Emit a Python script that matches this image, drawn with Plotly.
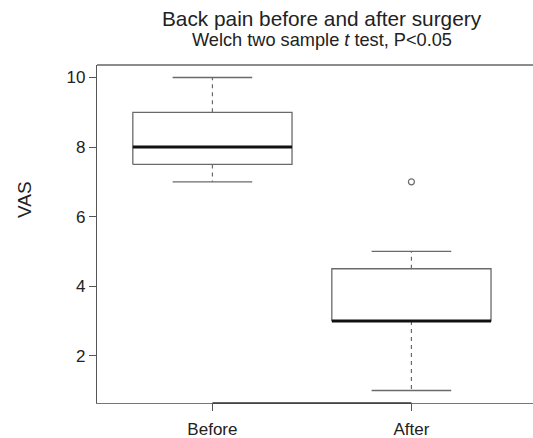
import plotly.graph_objects as go

# Data (five-number summaries)
categories = ["Before", "After"]
lower_whisker = [7, 1]
q1_values = [7.5, 3]
median_values = [8, 3]
q3_values = [9, 4.5]
upper_whisker = [10, 5]
outliers = [[], [7]]
y_ticks = [2, 4, 6, 8, 10]

FONT = "Liberation Sans, Arial, Helvetica, sans-serif"
BOX_COLOR = "#6a6a6a"
HALF_BOX = 0.4
HALF_CAP = 0.2

fig = go.Figure()
positions = list(range(1, len(categories) + 1))
for i, pos in enumerate(positions):
    # box rectangle
    fig.add_trace(go.Scatter(
        x=[pos - HALF_BOX, pos + HALF_BOX, pos + HALF_BOX, pos - HALF_BOX, pos - HALF_BOX],
        y=[q1_values[i], q1_values[i], q3_values[i], q3_values[i], q1_values[i]],
        mode="lines", line=dict(color=BOX_COLOR, width=1.3), hoverinfo="skip"))
    # whiskers (dashed)
    fig.add_trace(go.Scatter(
        x=[pos, pos, None, pos, pos],
        y=[q3_values[i], upper_whisker[i], None, q1_values[i], lower_whisker[i]],
        mode="lines", line=dict(color=BOX_COLOR, width=1.2, dash="4px,4px"), hoverinfo="skip"))
    # caps
    fig.add_trace(go.Scatter(
        x=[pos - HALF_CAP, pos + HALF_CAP, None, pos - HALF_CAP, pos + HALF_CAP],
        y=[upper_whisker[i], upper_whisker[i], None, lower_whisker[i], lower_whisker[i]],
        mode="lines", line=dict(color=BOX_COLOR, width=1.3), hoverinfo="skip"))
    # median
    fig.add_trace(go.Scatter(
        x=[pos - HALF_BOX, pos + HALF_BOX],
        y=[median_values[i], median_values[i]],
        mode="lines", line=dict(color="#111111", width=3), hoverinfo="skip"))
    # outliers
    if outliers[i]:
        fig.add_trace(go.Scatter(
            x=[pos] * len(outliers[i]), y=outliers[i], mode="markers",
            marker=dict(symbol="circle-open", size=6, color=BOX_COLOR, line=dict(width=1.2)),
            hoverinfo="skip"))

W, H = 533, 438
ML, MR, MT, MB = 97, 0, 65, 35
plot_w = W - ML - MR
plot_h = H - MT - MB

fig.update_layout(
    width=W, height=H,
    margin=dict(l=ML, r=MR, t=MT, b=MB),
    paper_bgcolor="white", plot_bgcolor="white",
    showlegend=False,
    font=dict(family=FONT, color="#222222", size=17),
    xaxis=dict(
        range=[0.42, 0.42 + plot_w / 199.0],
        tickvals=positions, ticktext=categories,
        showgrid=False, zeroline=False,
        showline=True, linecolor="#777777", linewidth=1.3,
        ticks="outside", ticklen=7, tickcolor="#555555", tickwidth=1.2,
        ticklabelstandoff=3,
        tickfont=dict(size=17, color="#222222"),
    ),
    yaxis=dict(
        range=[0.64, 10.36],
        tickvals=y_ticks, ticktext=[str(v) for v in y_ticks],
        showgrid=False, zeroline=False,
        showline=True, linecolor="#555555", linewidth=1.3,
        ticks="outside", ticklen=7, tickcolor="#555555", tickwidth=1.2,
        tickfont=dict(size=17, color="#222222"),
    ),
    shapes=[
        dict(type="line", xref="paper", yref="paper", x0=0, x1=1, y0=1, y1=1,
             line=dict(color="#666666", width=1.3)),
        # R-style axis line between first and last tick
        dict(type="line", xref="x", yref="paper", x0=positions[0], x1=positions[-1], y0=0, y1=0,
             line=dict(color="#333333", width=1.5)),
    ],
    annotations=[
        dict(text="Back pain before and after surgery", xref="paper", yref="paper",
             x=(322 - ML) / plot_w, y=1 + (MT - 19) / plot_h,
             xanchor="center", yanchor="middle", showarrow=False,
             font=dict(size=20.8, color="#222222", family=FONT)),
        dict(text="Welch two sample <i>t</i> test, P&lt;0.05", xref="paper", yref="paper",
             x=(322 - ML) / plot_w, y=1 + (MT - 40) / plot_h,
             xanchor="center", yanchor="middle", showarrow=False,
             font=dict(size=18.2, color="#222222", family=FONT)),
        dict(text="VAS", xref="paper", yref="paper",
             x=-(ML - 25) / plot_w, y=1 - (200 - MT) / plot_h,
             xanchor="center", yanchor="middle", textangle=-90, showarrow=False,
             font=dict(size=19, color="#222222", family=FONT)),
    ],
)

fig.write_html("out.html", config={"displayModeBar": False},
               post_script="document.body.style.margin='0';document.body.style.overflow='hidden';")
